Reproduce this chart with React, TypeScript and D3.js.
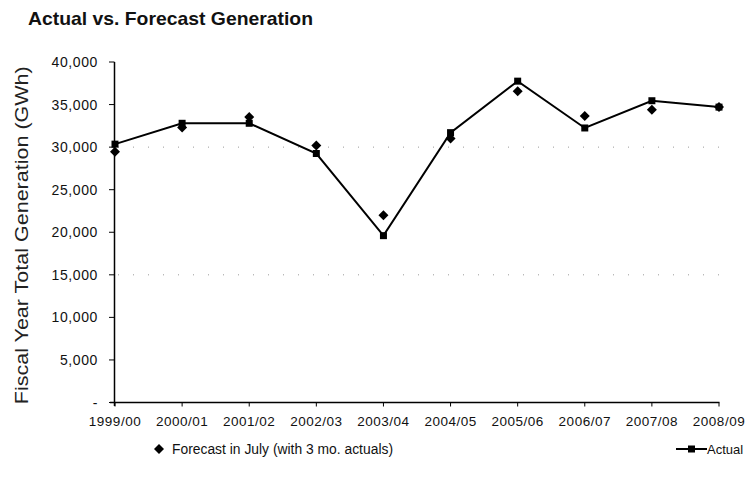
import React from "react";
import * as d3 from "d3";

// Fiscal years shown along the x axis
const years = [
  "1999/00", "2000/01", "2001/02", "2002/03", "2003/04",
  "2004/05", "2005/06", "2006/07", "2007/08", "2008/09",
];

// Total generation, GWh
const actual = [30350, 32800, 32800, 29250, 19600, 31700, 37750, 32250, 35450, 34700];
const forecast = [29450, 32300, 33550, 30200, 22000, 31000, 36550, 33650, 34400, 34700];

const yTicks = [0, 5000, 10000, 15000, 20000, 25000, 30000, 35000, 40000];
const gridLevels = [15000, 30000];

const W = 747;
const H = 487;
const font = "'Liberation Sans', Arial, sans-serif";

export default function App() {
  const x = d3.scalePoint<string>().domain(years).range([115, 719]);
  const y = d3.scaleLinear().domain([0, 40000]).range([402.5, 62]);
  const fmt = d3.format(",");

  const line = d3
    .line<number>()
    .x((_, i) => x(years[i]) as number)
    .y((d) => y(d));

  const diamond = (cx: number, cy: number, r: number) =>
    `M${cx},${cy - r}L${cx + r},${cy}L${cx},${cy + r}L${cx - r},${cy}Z`;

  return (
    <svg
      width={W}
      height={H}
      style={{ position: "absolute", left: 0, top: 0, background: "#fff" }}
      fontFamily={font}
    >
      <rect width={W} height={H} fill="#fff" />
      <text
        x={28}
        y={25}
        fontSize={19}
        fontWeight="bold"
        fill="#111"
        textLength={285}
        lengthAdjust="spacingAndGlyphs"
      >
        Actual vs. Forecast Generation
      </text>

      {/* faint dotted gridlines */}
      {gridLevels.map((v) => (
        <line
          key={v}
          x1={118}
          x2={719}
          y1={y(v)}
          y2={y(v)}
          stroke="#999"
          strokeWidth={1}
          strokeDasharray="1 14"
        />
      ))}

      {/* y axis */}
      <line x1={114.5} x2={114.5} y1={62} y2={406} stroke="#000" strokeWidth={1.5} />
      {yTicks.map((t) => (
        <g key={t}>
          <line x1={109} x2={114.5} y1={y(t)} y2={y(t)} stroke="#000" strokeWidth={1} />
          <text
            x={98}
            y={y(t) + 5}
            textAnchor="end"
            fontSize={14}
            letterSpacing={0.6}
            fill="#111"
          >
            {t === 0 ? "-" : fmt(t)}
          </text>
        </g>
      ))}
      <text
        transform={`translate(28,${(y(40000) + y(0)) / 2 + 3}) rotate(-90)`}
        textAnchor="middle"
        fontSize={19}
        fill="#222"
        textLength={338}
        lengthAdjust="spacingAndGlyphs"
      >
        Fiscal Year Total Generation (GWh)
      </text>

      {/* x axis */}
      <line x1={110} x2={719.5} y1={402.5} y2={402.5} stroke="#000" strokeWidth={1.5} />
      {years.map((yr) => (
        <g key={yr}>
          <line
            x1={x(yr) as number}
            x2={x(yr) as number}
            y1={402.5}
            y2={406.5}
            stroke="#000"
            strokeWidth={1}
          />
          <text
            x={x(yr) as number}
            y={426}
            textAnchor="middle"
            fontSize={13.5}
            letterSpacing={0.5}
            fill="#111"
          >
            {yr}
          </text>
        </g>
      ))}

      {/* forecast markers */}
      {forecast.map((v, i) => (
        <path key={i} d={diamond(x(years[i]) as number, y(v), 5)} fill="#000" />
      ))}

      {/* actual line with square markers */}
      <path d={line(actual) ?? ""} fill="none" stroke="#000" strokeWidth={2} />
      {actual.map((v, i) => (
        <rect
          key={i}
          x={(x(years[i]) as number) - 3.5}
          y={y(v) - 3.5}
          width={7}
          height={7}
          fill="#000"
        />
      ))}

      {/* legend */}
      <path d={diamond(159, 449, 5)} fill="#000" />
      <text
        x={172}
        y={454}
        fontSize={14}
        fill="#111"
        textLength={221}
        lengthAdjust="spacingAndGlyphs"
      >
        Forecast in July (with 3 mo. actuals)
      </text>
      <line x1={676} x2={707} y1={449} y2={449} stroke="#000" strokeWidth={2} />
      <rect x={688} y={445.5} width={7} height={7} fill="#000" />
      <text x={707} y={454} fontSize={13} fill="#111">
        Actual
      </text>
    </svg>
  );
}
